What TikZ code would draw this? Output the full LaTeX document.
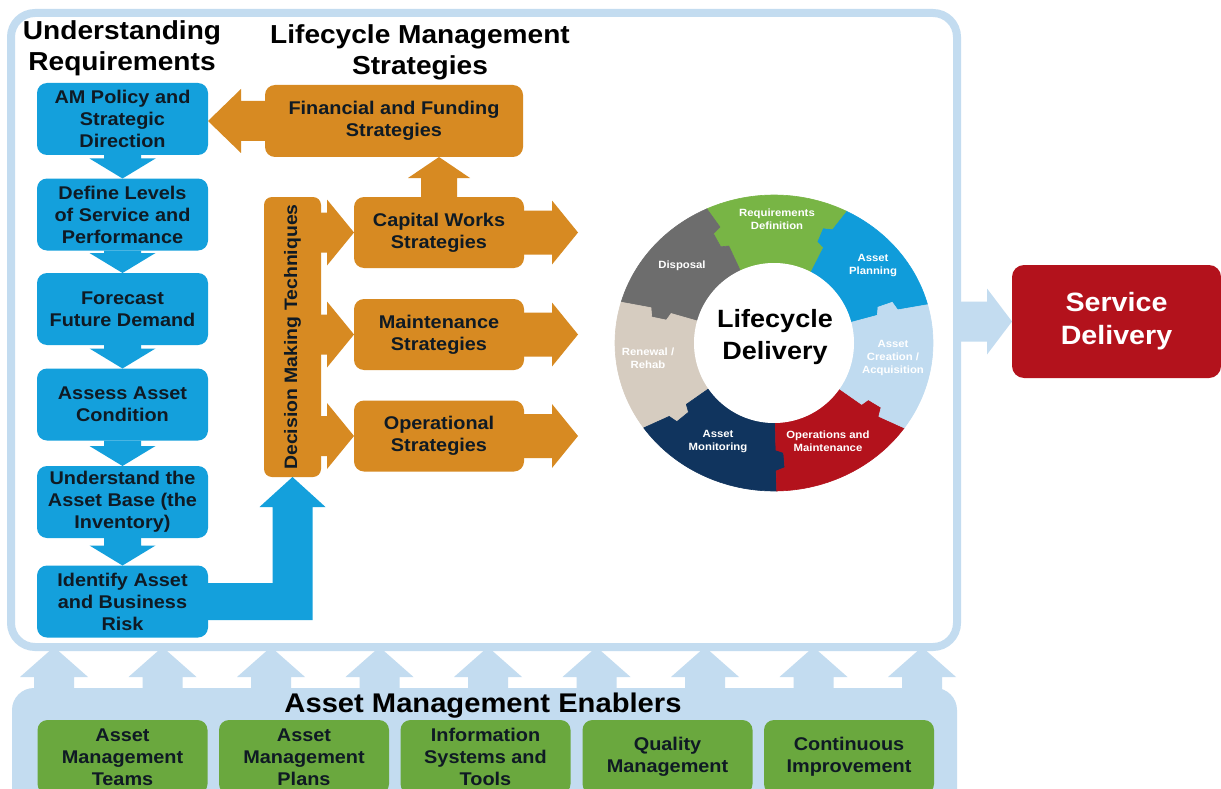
\documentclass[tikz,border=0pt]{standalone}
\usepackage{fontspec}
\setmainfont{Liberation Sans}[FakeStretch=1.08]
\usetikzlibrary{calc}
\definecolor{cframe}{HTML}{C3DCF0}
\definecolor{cbox}{HTML}{14A0DC}
\definecolor{corange}{HTML}{D78A22}
\definecolor{cgreen}{HTML}{6AA83E}
\definecolor{cred}{HTML}{B3121C}
\definecolor{ctxt}{HTML}{0F1A24}
\definecolor{rgreen}{HTML}{78B545}
\definecolor{rblue}{HTML}{109CDA}
\definecolor{rlight}{HTML}{C0DBF0}
\definecolor{rred}{HTML}{B3121C}
\definecolor{rnavy}{HTML}{10345E}
\definecolor{rbeige}{HTML}{D6CCC0}
\definecolor{rgray}{HTML}{6D6D6D}
% horizontal block arrow: colour, from, to, half shaft, half head, signed head length
\newcommand\harrow[6]{\fill[#1] let \p1=(#2),\p2=(#3) in
  (\x1,{\y1+(#4)}) -- ({\x2-(#6)},{\y1+(#4)}) -- ({\x2-(#6)},{\y1+(#5)}) -- (\x2,\y1)
  -- ({\x2-(#6)},{\y1-(#5)}) -- ({\x2-(#6)},{\y1-(#4)}) -- (\x1,{\y1-(#4)}) -- cycle;}
% vertical block arrow: colour, from, to, half shaft, half head, signed head length (positive = up)
\newcommand\varrow[6]{\fill[#1] let \p1=(#2),\p2=(#3) in
  ({\x1-(#4)},\y1) -- ({\x1-(#4)},{\y2-(#6)}) -- ({\x1-(#5)},{\y2-(#6)}) -- (\x1,\y2)
  -- ({\x1+(#5)},{\y2-(#6)}) -- ({\x1+(#4)},{\y2-(#6)}) -- ({\x1+(#4)},\y1) -- cycle;}
\begin{document}
\begin{tikzpicture}[x=1pt,y=-1pt,
  box/.style={rounded corners=10pt, align=center, inner sep=0pt, outer sep=0pt,
    font=\bfseries\fontsize{18.4}{22}\selectfont},
  bbox/.style={box, fill=cbox, text=ctxt, minimum width=171pt, minimum height=72pt},
  obox/.style={box, fill=corange, text=ctxt, minimum width=170pt, minimum height=71pt},
  gbox/.style={box, fill=cgreen, text=ctxt, minimum width=170pt, minimum height=74pt},
  title/.style={align=center, text=black, font=\bfseries\fontsize{26}{31}\selectfont},
  rlab/.style={align=center, text=white, font=\bfseries\fontsize{10.5}{13}\selectfont}]
\useasboundingbox (0,0) rectangle (1221,789);
\clip (0,0) rectangle (1221,789);
\fill[white] (0,0) rectangle (1221,789);

% frame and enablers band
\node[draw=cframe, line width=8pt, rounded corners=24pt, minimum width=946pt,
  minimum height=634pt, inner sep=0pt, outer sep=0pt] (frame) at (484,330) {};
\node[fill=cframe, rounded corners=22pt, minimum width=945pt, minimum height=130pt,
  inner sep=0pt, outer sep=0pt, anchor=north west] (band) at (12,688) {};
\foreach \k in {0,...,8}{
  \coordinate (ea\k) at ({54+108.5*\k},690);
  \varrow{cframe}{ea\k}{ea\k |- frame.south}{20}{34}{30}
}
\node[anchor=base, font=\bfseries\fontsize{27}{30}\selectfont] (ame) at (483,712) {Asset Management Enablers};
\node[gbox] (g1) at (122.5,757) {Asset\\Management\\Teams};
\node[gbox] (g2) at (304,757) {Asset\\Management\\Plans};
\node[gbox] (g3) at (485.5,757) {Information\\Systems and\\Tools};
\node[gbox] (g4) at (667.5,757) {Quality\\Management};
\node[gbox] (g5) at (849,757) {Continuous\\Improvement};

% titles
\node[title] (ur) at (122,48) {Understanding\\Requirements};
\node[title] (lms) at (420,52) {Lifecycle Management\\Strategies};

% left column
\node[bbox] (am) at (122.5,119) {AM Policy and\\Strategic\\Direction};
\node[bbox] (dl) at (122.5,214.5) {Define Levels\\of Service and\\Performance};
\node[bbox] (fd) at (122.5,309) {Forecast\\Future Demand};
\node[bbox] (ac) at (122.5,404.5) {Assess Asset\\Condition};
\node[bbox] (ab) at (122.5,502) {Understand the\\Asset Base (the\\Inventory)};
\node[bbox] (ir) at (122.5,601.5) {Identify Asset\\and Business\\Risk};
\varrow{cbox}{am.south}{dl.north}{18.5}{33}{-20}
\varrow{cbox}{dl.south}{fd.north}{18.5}{33}{-20}
\varrow{cbox}{fd.south}{ac.north}{18.5}{33}{-20}
\varrow{cbox}{ac.south}{ab.north}{18.5}{33}{-20}
\varrow{cbox}{ab.south}{ir.north}{18.5}{33}{-20}

% strategies
\node[obox, minimum width=258pt, minimum height=72pt] (fin) at (394,121) {Financial and Funding\\Strategies};
\node[fill=corange, rounded corners=8pt, minimum width=57pt, minimum height=280pt,
  inner sep=0pt, outer sep=0pt] (dmt) at (292.5,337) {};
\node[rotate=90, text=ctxt, font=\bfseries\fontsize{18}{22}\selectfont] (dmtl) at (dmt.center) {Decision Making Techniques};
\node[obox] (cw) at (439,232.5) {Capital Works\\Strategies};
\node[obox] (ms) at (439,334.5) {Maintenance\\Strategies};
\node[obox] (os) at (439,436) {Operational\\Strategies};
\harrow{corange}{fin.west}{am.east}{20}{32}{-33}
\varrow{corange}{cw.north}{fin.south}{18}{31}{21}
\harrow{corange}{dmt.east |- cw.west}{cw.west}{20}{33}{27}
\harrow{corange}{dmt.east |- ms.west}{ms.west}{20}{33}{27}
\harrow{corange}{dmt.east |- os.west}{os.west}{20}{33}{27}
\coordinate (cwt) at ($(cw.east)+(54,0)$);
\coordinate (mst) at ($(ms.east)+(54,0)$);
\coordinate (ost) at ($(os.east)+(54,0)$);
\harrow{corange}{cw.east}{cwt}{22}{32}{26}
\harrow{corange}{ms.east}{mst}{22}{32}{26}
\harrow{corange}{os.east}{ost}{22}{32}{26}

% L-shaped arrow from risk box to decision techniques
\fill[cbox] let \p1=(ir.east), \p2=(dmt.south) in
  (\x1,{\y1+18.5}) -- ({\x2-20},{\y1+18.5}) -- ({\x2-20},{\y2-30}) -- ({\x2-33},{\y2-30})
  -- (\x2,\y2) -- ({\x2+33},{\y2-30}) -- ({\x2+20},{\y2-30}) -- ({\x2+20},{\y1-18.5})
  -- (\x1,{\y1-18.5}) -- cycle;

% lifecycle ring
\begin{scope}[shift={(774,343)}, yscale=-1]
\foreach \a/\b/\c in {15/63/rblue, 63/115/rgreen, 115/164/rgray, 164/215/rbeige,
                      215/271/rnavy, 271/325/rred, 325/375/rlight}{
  \filldraw[fill=\c, draw=\c, line width=0.6pt]
    ({159*cos(\a)},{148*sin(\a)}) arc[start angle=\a, end angle=\b, x radius=159, y radius=148]
    -- (\b:128) -- ({\b+4}:125) -- ({\b+4}:110) -- (\b:107) -- (\b:80)
    arc[start angle=\b, end angle=\a, radius=80]
    -- (\a:107) -- ({\a+4}:110) -- ({\a+4}:125) -- (\a:128) -- cycle;
}
\end{scope}
\node[circle, fill=white, minimum size=160pt, inner sep=0pt] (lc) at (774,343) {};
\node[align=center, text=black, font=\bfseries\fontsize{25}{32}\selectfont] (lcd) at (775,337) {Lifecycle\\Delivery};
\node[rlab] (rd) at (777,219) {Requirements\\Definition};
\node[rlab] (ap) at (873,265) {Asset\\Planning};
\node[rlab] (aca) at (893,358) {Asset\\Creation /\\Acquisition};
\node[rlab] (om) at (828,441) {Operations and\\Maintenance};
\node[rlab] (amo) at (718,441) {Asset\\Monitoring};
\node[rlab] (rr) at (648,358) {Renewal /\\Rehab};
\node[rlab] (dsp) at (682,266) {Disposal};

% service delivery
\node[fill=cred, rounded corners=12pt, minimum width=209pt, minimum height=113pt,
  inner sep=0pt, outer sep=0pt, text=white, align=center,
  font=\bfseries\fontsize{26.5}{33}\selectfont] (sd) at (1116.5,321.5) {Service\\Delivery};
\harrow{cframe}{frame.east |- sd.west}{sd.west}{20}{33}{25}
\end{tikzpicture}
\end{document}
